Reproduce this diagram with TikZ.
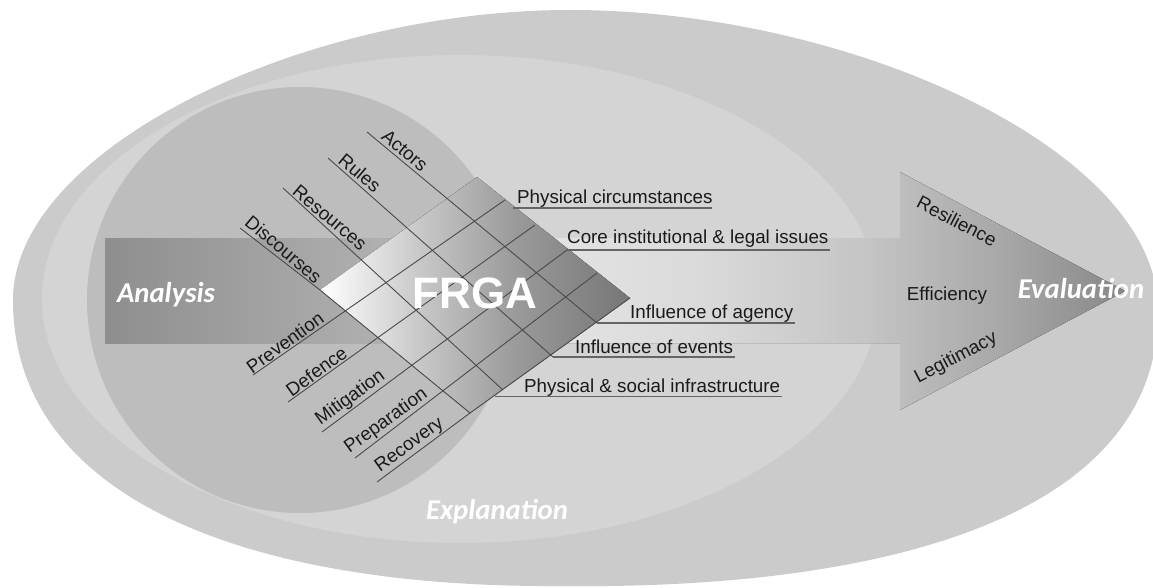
\documentclass[tikz,border=0pt]{standalone}
\usepackage{fontspec}
\setmainfont{Liberation Sans}
\newfontfamily\calib{Carlito}
\usetikzlibrary{calc}
\definecolor{outerc}{HTML}{CBCBCB}
\definecolor{midc}{HTML}{D4D4D4}
\definecolor{circc}{HTML}{BDBDBD}
\definecolor{an1}{HTML}{8E8E8E}
\definecolor{an2}{HTML}{B2B2B2}
\definecolor{ev0}{HTML}{E4E4E4}
\definecolor{ev1}{HTML}{DADADA}
\definecolor{ev2}{HTML}{C4C4C4}
\definecolor{ev3}{HTML}{A8A8A8}
\definecolor{ev4}{HTML}{888888}
\definecolor{fr1}{HTML}{C8C8C8}
\definecolor{fr2}{HTML}{999999}
\definecolor{fr3}{HTML}{767676}
\definecolor{linec}{HTML}{4A4A4A}
\definecolor{labc}{HTML}{1A1A1A}
\pgfdeclarehorizontalshading{evalshade}{100bp}{color(0bp)=(ev0); color(25bp)=(ev0); color(38.7bp)=(ev1); color(53.2bp)=(ev2); color(64.3bp)=(ev3); color(75bp)=(ev4); color(100bp)=(ev4)}
\pgfdeclarehorizontalshading{frgashade}{100bp}{color(0bp)=(white); color(25bp)=(white); color(41bp)=(fr1); color(57bp)=(fr2); color(75bp)=(fr3); color(100bp)=(fr3)}
\begin{document}
\begin{tikzpicture}[x=1pt,y=-1pt,
  lab/.style={font=\fontsize{18.8}{20}\selectfont, text=labc, inner sep=0pt},
  alab/.style={lab, rotate=-40, anchor=south, inner sep=3pt},
  blab/.style={lab, rotate=35.8, anchor=south, inner sep=1.5pt},
  big/.style={font=\calib\bfseries\itshape\fontsize{28.7}{30}\selectfont, text=white, inner sep=0pt},
  gl/.style={draw=linec, line width=0.9pt},
  ul/.style={draw=linec!85, line width=1.2pt}]
\useasboundingbox (0,0) rectangle (1153,588);
% background shapes
\fill[outerc] (13,300) .. controls (13,500) and (250,588) .. (560,586)
  .. controls (900,590) and (1160,510) .. (1158,310)
  .. controls (1158,150) and (850,10) .. (570,10)
  .. controls (300,10) and (13,150) .. cycle;
\fill[midc] (460,299) ellipse [x radius=418, y radius=244];
\fill[circc] (300,300) circle [radius=213];
% arrows
\fill[left color=an1, right color=an2] (105,238) rectangle (400,343);
\fill[shading=evalshade] (540,238) -- (900,238) -- (900,172) -- (1125,291) -- (900,410) -- (900,343) -- (540,343) -- cycle;
% diamond
\coordinate (L) at (320,290);
\coordinate (T) at (477,177);
\coordinate (R) at (630,298);
\coordinate (B) at (470,413);
\fill[shading=frgashade] (L) -- (T) -- (R) -- (B) -- cycle;
% A lines (down-right): label start -> end on lower right edge
\coordinate (sA0) at (240,228); \coordinate (eA0) at (B);
\coordinate (sA1) at (283,188); \coordinate (eA1) at (503,390);
\coordinate (sA2) at (328,158); \coordinate (eA2) at (553,357);
\coordinate (sA3) at (367,132); \coordinate (eA3) at (597,323);
\draw[gl] (sA0) -- (L) -- (eA0);
\draw[gl] (sA1) -- (eA1);
\draw[gl] (sA2) -- (eA2);
\draw[gl] (sA3) -- (eA3);
% B lines (up-right): label start -> end on upper right edge
\coordinate (sB1) at (253,375); \coordinate (eB1) at (505,200);
\coordinate (sB2) at (288,402); \coordinate (eB2) at (535,225);
\coordinate (sB3) at (322,432); \coordinate (eB3) at (567,250);
\coordinate (sB4) at (355,458); \coordinate (eB4) at (597,273);
\coordinate (sB5) at (377,482);
\draw[gl] (sB1) -- (eB1);
\draw[gl] (sB2) -- (eB2);
\draw[gl] (sB3) -- (eB3);
\draw[gl] (sB4) -- (eB4);
\draw[gl] (sB5) -- (B) -- (R);
% grid labels
\node[alab] (actors) at ($(sA3)!41pt!(eA3)$) {Actors};
\node[alab] (rules) at ($(sA2)!34pt!(eA2)$) {Rules};
\node[alab] (resources) at ($(sA1)!55pt!(eA1)$) {Resources};
\node[alab] (discourses) at ($(sA0)!47pt!(L)$) {Discourses};
\node[blab] (prevention) at ($(sB1)!45pt!(eB1)$) {Prevention};
\node[blab] (defence) at ($(sB2)!41pt!(eB2)$) {Defence};
\node[blab] (mitigation) at ($(sB3)!43pt!(eB3)$) {Mitigation};
\node[blab] (preparation) at ($(sB4)!47pt!(eB4)$) {Preparation};
\node[blab] (recovery) at ($(sB5)!48pt!(B)$) {Recovery};
% right labels with underlines
\coordinate (u1) at (513,208);
\coordinate (u2) at (eB3);
\coordinate (u3) at (eA3);
\coordinate (u4) at (eA2);
\coordinate (u5) at (495,396.5);
\coordinate (e1) at (712,208);
\coordinate (e2) at (830,250);
\coordinate (e3) at (795,323);
\coordinate (e4) at (735,357);
\coordinate (e5) at (782,396.5);
\draw[ul] (u1) -- (e1);
\draw[ul] (u2) -- (e2);
\draw[ul] (u3) -- (e3);
\draw[ul] (u4) -- (e4);
\draw[ul] (u5) -- (e5);
\node[lab, anchor=base west] (physc) at (517,204) {Physical circumstances};
\node[lab, anchor=base west] (core) at (567,243.5) {Core institutional \& legal issues};
\node[lab, anchor=base west] (agency) at (630,318) {Influence of agency};
\node[lab, anchor=base west] (events) at (575,353) {Influence of events};
\node[lab, anchor=base west] (infra) at (524,392) {Physical \& social infrastructure};
% FRGA
\node[font=\bfseries\fontsize{44}{46}\selectfont, text=white, inner sep=0pt] (frga) at (475,293.5) {FRGA};
% evaluation arrow labels
\node[lab, rotate=-27.5] (resil) at (957,221) {Resilience};
\node[lab, anchor=base] (effic) at (947,300) {Efficiency};
\node[lab, rotate=27.5] (legit) at (956,358) {Legitimacy};
% big labels
\node[big, anchor=base] (analysis) at (166,302) {Analysis};
\node[big, anchor=base] (evaluation) at (1081,298) {Evaluation};
\node[big, anchor=base] (explanation) at (497,519) {Explanation};
\end{tikzpicture}
\end{document}
